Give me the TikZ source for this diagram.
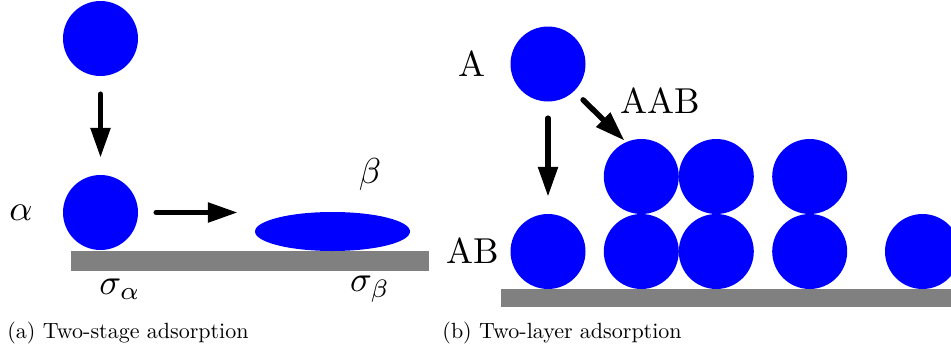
\documentclass[tikz,border=0pt]{standalone}
\usepackage{amsmath, amssymb}
\usepackage{tikz}
\usetikzlibrary{arrows.meta, positioning, calc, shapes.geometric}

\begin{document}
\begin{tikzpicture}[x=1pt, y=-1pt,
        ball/.style={circle, fill=blue, inner sep=0pt, minimum size=75pt},
        flat/.style={ellipse, fill=blue, inner sep=0pt, minimum width=155pt, minimum height=39pt},
        arr/.style={line width=5.5pt, line cap=round, -{Triangle[length=30pt, width=19pt]}},
        lbl/.style={scale=3.6, inner sep=0pt},
        subcap/.style={scale=2.2, inner sep=0pt, anchor=west}]
    \useasboundingbox (0,0) rectangle (951,351);

    % (a) two-stage
    \fill[gray] (71,251) rectangle (429,271);
    \node[ball] (free) at (100.5,38.5) {};
    \node[ball] (alpha) at (100.5,212.5) {};
    \node[flat] (beta) at (332.5,231.5) {};
    \draw[arr, shorten <=18pt, shorten >=17pt] (free) -- (alpha);
    \draw[arr, shorten <=18pt, shorten >=17pt] (alpha.east) -- (alpha.east -| beta.west);
    \node[lbl] (la) at (21,213) {$\alpha$};
    \node[lbl] (lb) at (370,174) {$\beta$};
    \node[lbl] (sa) at (120,289) {$\sigma_\alpha$};
    \node[lbl] (sb) at (370,289) {$\sigma_\beta$};
    \node[subcap] (capa) at (7,333) {(a) Two-stage adsorption};

    % (b) two-layer
    \fill[gray] (501,289) rectangle (951,307);
    \node[ball] (A) at (548,64) {};
    \node[ball] (b1) at (548,251.5) {};
    \node[ball] (b2) at (641.3,251.5) {};
    \node[ball] (b3) at (716.3,251.5) {};
    \node[ball] (b4) at (809.7,251.5) {};
    \node[ball] (b5) at (922.5,251.5) {};
    \node[ball] (t1) at (641.3,176.5) {};
    \node[ball] (t2) at (716.3,176.5) {};
    \node[ball] (t3) at (809.7,176.5) {};
    \draw[arr, shorten <=16.5pt, shorten >=17pt] (A) -- (b1);
    \draw[arr, shorten <=12.5pt, shorten >=2pt] (A.-46) -- (t1.114);
    \node[lbl] (lA) at (472,64) {A};
    \node[lbl] (lAAB) at (660,101) {AAB};
    \node[lbl] (lAB) at (473,251) {AB};
    \node[subcap] (capb) at (442,333) {(b) Two-layer adsorption};
\end{tikzpicture}
\end{document}
